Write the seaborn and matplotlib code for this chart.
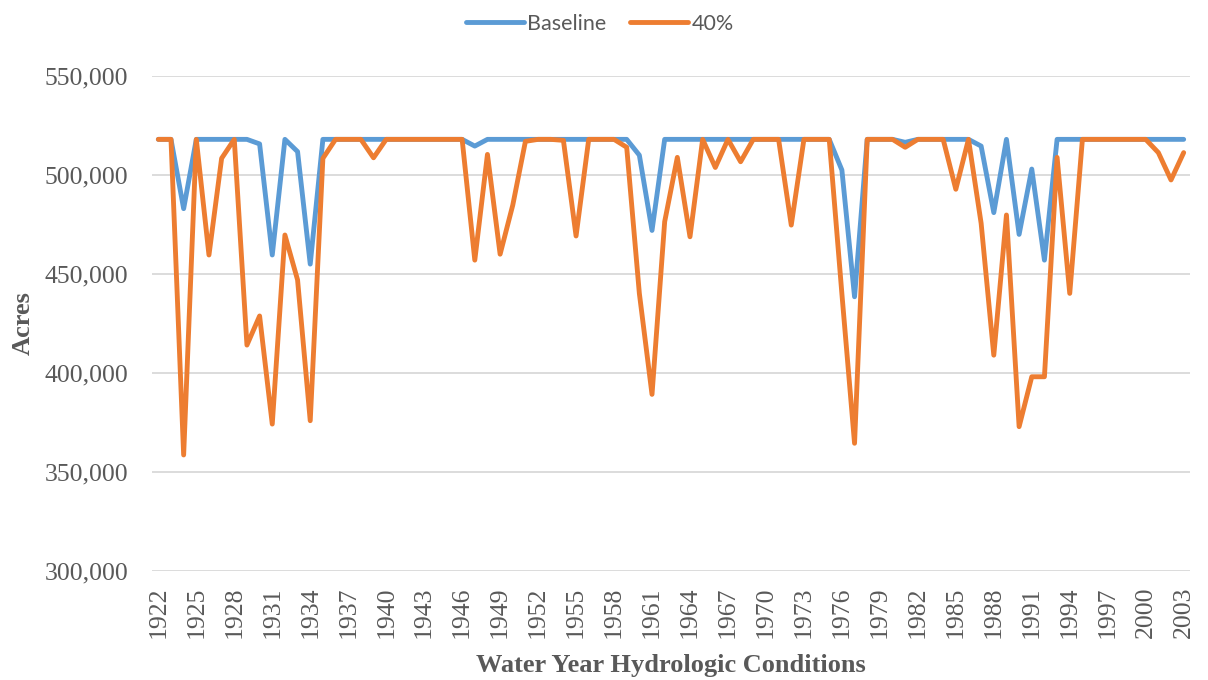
import numpy as np
import pandas as pd
import matplotlib
matplotlib.use("Agg")
import matplotlib.pyplot as plt
import seaborn as sns
from matplotlib.ticker import FuncFormatter

# Water years 1922-2003
years = list(range(1922, 2004))

# Acres (thousands)
baseline_k = [
    518, 518, 483, 518, 518, 518, 518, 518, 515.7, 459.6,     # 1922-1931
    518, 511.8, 455, 518, 518, 518, 518, 518, 518, 518,       # 1932-1941
    518, 518, 518, 518, 518, 514.6, 518, 518, 518, 518,       # 1942-1951
    518, 518, 518, 518, 518, 518, 518, 518, 510, 472,         # 1952-1961
    518, 518, 518, 518, 518, 518, 518, 518, 518, 518,         # 1962-1971
    518, 518, 518, 518, 502.5, 438.5, 518, 518, 518, 516.5,   # 1972-1981
    518, 518, 518, 518, 518, 514.6, 481, 518, 470, 503,       # 1982-1991
    457, 518, 518, 518, 518, 518, 518, 518, 518, 518,         # 1992-2001
    518, 518,                                                 # 2002-2003
]
pct40_k = [
    518, 518, 358.6, 518, 459.6, 508.4, 518, 414.1, 428.8, 374.2,  # 1922-1931
    469.7, 447, 375.9, 508.4, 518, 518, 518, 508.7, 518, 518,      # 1932-1941
    518, 518, 518, 518, 518, 457, 510.4, 460, 484.8, 517,          # 1942-1951
    518, 518, 517.5, 469.2, 518, 518, 518, 514, 440.2, 389.2,      # 1952-1961
    476.4, 508.9, 468.8, 518, 503.8, 518, 506.7, 518, 518, 518,    # 1962-1971
    474.7, 518, 518, 518, 440, 364.5, 518, 518, 518, 514,          # 1972-1981
    518, 518, 518, 492.8, 518, 475.6, 409, 479.8, 372.9, 398.1,    # 1982-1991
    398.1, 508.9, 440.2, 518, 518, 518, 518, 518, 518, 511.3,      # 1992-2001
    497.5, 511.3,                                                  # 2002-2003
]
series_names = ["Baseline", "40%"]
series_colors = ["#5B9BD5", "#ED7D31"]
y_ticks = [300000, 350000, 400000, 450000, 500000, 550000]
x_ticks = list(range(1922, 2004, 3))

df = pd.DataFrame({
    "Year": years * 2,
    "Acres": [v * 1000 for v in baseline_k] + [v * 1000 for v in pct40_k],
    "Scenario": [series_names[0]] * len(years) + [series_names[1]] * len(years),
})

sns.set_style("white")
grey = "#595959"

fig = plt.figure(figsize=(12.08, 6.8), dpi=100)
ax = fig.add_axes([152 / 1208, 1 - 571 / 680, (1190 - 152) / 1208, (571 - 76) / 680])

sns.lineplot(data=df, x="Year", y="Acres", hue="Scenario", hue_order=series_names,
             palette=series_colors, linewidth=3.5, legend=False, ax=ax,
             solid_joinstyle="round", solid_capstyle="round")

ax.set_xlim(1921.5, 2003.5)
ax.set_ylim(300000, 550000)
ax.set_yticks(y_ticks)
ax.set_xticks(x_ticks)
ax.yaxis.set_major_formatter(FuncFormatter(lambda v, p: f"{int(v):,}"))
ax.grid(axis="y", color="#D9D9D9", linewidth=1.3)
ax.grid(axis="x", visible=False)
ax.set_axisbelow(True)
for s in ax.spines.values():
    s.set_visible(False)

serif = ["Liberation Serif", "DejaVu Serif"]
ax.tick_params(axis="y", length=0, pad=17, labelsize=18.5, labelcolor=grey)
ax.tick_params(axis="x", length=0, pad=11, labelsize=18.5, labelcolor=grey, labelrotation=90)
for lbl in ax.get_xticklabels() + ax.get_yticklabels():
    lbl.set_fontfamily(serif)

ax.set_xlabel("Water Year Hydrologic Conditions", fontsize=19, fontweight="bold",
              color=grey, family=serif, labelpad=12)
ax.set_ylabel("Acres", fontsize=19, fontweight="bold", color=grey, family=serif, labelpad=7)

handles = ax.get_lines()[:2]
leg = fig.legend(handles, series_names, loc="center", bbox_to_anchor=(600 / 1208, 1 - 24 / 680),
                 ncol=2, frameon=False, handlelength=2.7, handletextpad=0.15, columnspacing=1.1,
                 prop={"family": ["Lato", "DejaVu Sans"], "size": 15.5})
for t in leg.get_texts():
    t.set_color(grey)

fig.savefig("out.png", dpi=100)
